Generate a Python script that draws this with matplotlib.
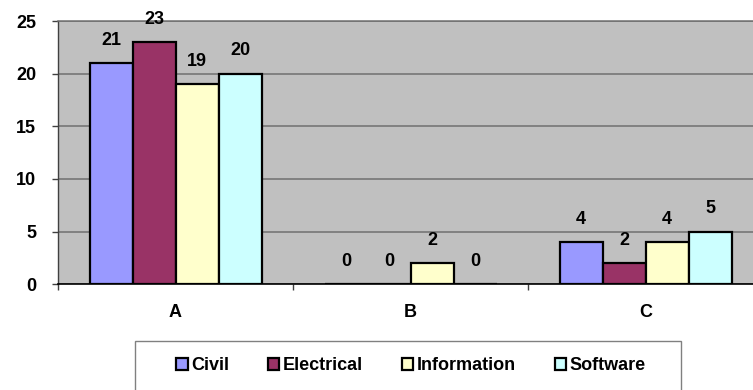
import numpy as np
import matplotlib
matplotlib.use("Agg")
import matplotlib.pyplot as plt
from matplotlib.patches import Patch, Rectangle

plt.rcParams['font.family'] = ['Liberation Sans', 'DejaVu Sans']
plt.rcParams['font.weight'] = 'bold'

categories = ["A", "B", "C"]
series_names = ["Civil", "Electrical", "Information", "Software"]
civil = [21, 0, 4]
electrical = [23, 0, 2]
information = [19, 2, 4]
software = [20, 0, 5]
series_values = [civil, electrical, information, software]
colors = ["#9999FF", "#993366", "#FFFFCC", "#CCFFFF"]
y_ticks = [0, 5, 10, 15, 20, 25]

W, H = 753, 390
FS = 13
fig = plt.figure(figsize=(W / 100, H / 100), dpi=100)
ax = fig.add_axes([58 / W, (H - 284.3) / H, 705 / W, 263.3 / H])
ax.set_facecolor("#C0C0C0")

x = np.arange(len(categories))
bar_w = 43 / 235
for i, (vals, col) in enumerate(zip(series_values, colors)):
    pos = x + (i - 1.5) * bar_w
    ax.bar(pos, vals, width=bar_w, color=col, edgecolor="black",
           linewidth=1.6, zorder=3)
    for px, v in zip(pos, vals):
        ax.annotate(str(v), (px, v), xytext=(0, 13.3), textcoords="offset points",
                    ha="center", va="baseline", fontsize=FS,
                    fontweight="bold", zorder=4)

ax.set_xlim(-0.5, 2.5)
ax.set_ylim(0, 25)
ax.set_yticks(y_ticks)
ax.set_yticklabels([str(t) for t in y_ticks])
ax.yaxis.grid(True, color="#707070", linewidth=1.1, zorder=1)
ax.set_axisbelow(True)

ax.set_xticks(x)
ax.set_xticklabels(categories)
ax.set_xticks([-0.5, 0.5, 1.5, 2.5], minor=True)
ax.tick_params(axis="x", which="major", length=0, pad=14.5, labelsize=FS)
ax.tick_params(axis="x", which="minor", length=4.5, width=1, color="#404040")
ax.tick_params(axis="y", length=4.3, width=1, color="#404040", pad=11.5,
               labelsize=FS)
for lab in ax.get_xticklabels() + ax.get_yticklabels():
    lab.set_fontweight("bold")

ax.spines["right"].set_visible(False)
ax.spines["top"].set_color("#707070")
ax.spines["top"].set_linewidth(1.1)
ax.spines["left"].set_color("#404040")
ax.spines["left"].set_linewidth(1)
ax.spines["bottom"].set_color("black")
ax.spines["bottom"].set_linewidth(1.2)

# legend frame running off the bottom edge
fig.patches.append(Rectangle((134.5 / W, -0.05), (681 - 134.5) / W,
                             (H - 341) / H + 0.05, transform=fig.transFigure,
                             facecolor="white", edgecolor="#808080",
                             linewidth=1, zorder=0))

handles = [Patch(facecolor=c, edgecolor="black", linewidth=1.6) for c in colors]
fig.legend(handles, series_names, loc="center",
           bbox_to_anchor=(411 / W, (H - 366) / H), ncol=4, frameon=False,
           prop={"size": FS, "weight": "bold"}, handlelength=0.62,
           handleheight=0.62, handletextpad=0.2, columnspacing=2.15)

fig.savefig("out.png", dpi=100)
